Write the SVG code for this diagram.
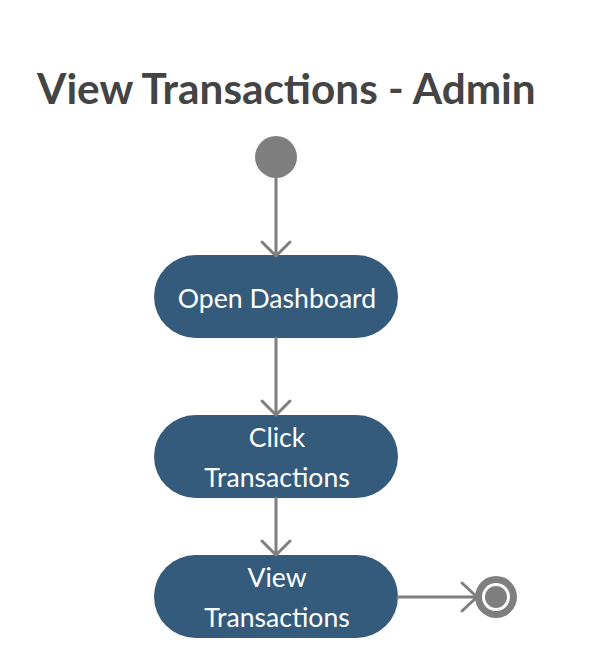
<svg xmlns="http://www.w3.org/2000/svg" width="606" height="667" viewBox="0 0 606 667">
<style>
.title{font-family:Lato,"Open Sans","Liberation Sans",sans-serif;font-weight:bold;font-size:42.3px;fill:#444444}
.node rect{fill:#355b7c}
.node text{font-family:Lato,"Open Sans","Liberation Sans",sans-serif;font-size:26.6px;fill:#ffffff;text-anchor:middle}
.edge{stroke:#7f7f7f;stroke-width:3;fill:none;stroke-linecap:round;stroke-linejoin:round}
</style>
<rect width="606" height="667" fill="#ffffff"/>
<text class="title" x="37" y="104">View Transactions - Admin</text>
<g id="start"><circle cx="276" cy="157" r="21" fill="#7f7f7f"/></g>
<g id="n1" class="node"><rect x="154" y="255" width="244" height="83" rx="41.5"/><text x="277" y="308">Open Dashboard</text></g>
<g id="n2" class="node"><rect x="154" y="415" width="244" height="83" rx="41.5"/><text x="277" y="447">Click</text><text x="277" y="487">Transactions</text></g>
<g id="n3" class="node"><rect x="154" y="555" width="244" height="83" rx="41.5"/><text x="277" y="587">View</text><text x="277" y="627">Transactions</text></g>
<g id="end"><circle cx="496" cy="597" r="21" fill="#7f7f7f"/><circle cx="496" cy="597" r="14" fill="#ffffff"/><circle cx="496" cy="597" r="11" fill="#7f7f7f"/></g>
<g id="connectors">
<path class="edge" d="M276 178V256M262 242L276 256L290 242"/>
<path class="edge" d="M276 338V415M262 401L276 415L290 401"/>
<path class="edge" d="M276 498V555M262 541L276 555L290 541"/>
<path class="edge" d="M398 597H477M462 583L477 597L462 611"/>
</g>
</svg>
